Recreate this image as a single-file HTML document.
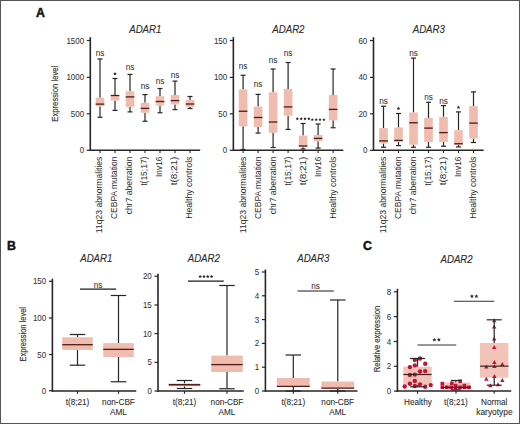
<!DOCTYPE html>
<html><head><meta charset="utf-8"><style>
html,body{margin:0;padding:0;background:#fff;}
text{stroke:#2c2c2c;stroke-width:0.08px;paint-order:stroke;}
svg{display:block;}
</style></head><body>
<svg width="520" height="424" viewBox="0 0 520 424" font-family='"Liberation Sans", sans-serif'>
<rect x="0" y="0" width="520" height="424" fill="#fff"/>
<text x="36" y="16.5" font-size="12.3" font-weight="bold" fill="#111" style="stroke:#111;stroke-width:0.45px">A</text>
<text x="7" y="249.6" font-size="12.3" font-weight="bold" fill="#111" style="stroke:#111;stroke-width:0.45px">B</text>
<text x="362.9" y="249.6" font-size="12.3" font-weight="bold" fill="#111" style="stroke:#111;stroke-width:0.45px">C</text>
<text x="145.3" y="32.9" font-size="10.5" text-anchor="middle" fill="#2a2a2a" font-style="italic" textLength="32.2" lengthAdjust="spacingAndGlyphs" style="stroke-width:0.1px">ADAR1</text>
<line x1="90.3" y1="37.2" x2="90.3" y2="151" stroke="#262626" stroke-width="1.6"/>
<line x1="86.8" y1="150.3" x2="90.3" y2="150.3" stroke="#262626" stroke-width="1.2"/>
<text x="84.1" y="153.3" font-size="8.7" text-anchor="end" fill="#333" textLength="4.42" lengthAdjust="spacingAndGlyphs" style="stroke-width:0.06px;stroke:#333">0</text>
<line x1="86.8" y1="113.8" x2="90.3" y2="113.8" stroke="#262626" stroke-width="1.2"/>
<text x="84.1" y="116.8" font-size="8.7" text-anchor="end" fill="#333" textLength="13.26" lengthAdjust="spacingAndGlyphs" style="stroke-width:0.06px;stroke:#333">500</text>
<line x1="86.8" y1="77.4" x2="90.3" y2="77.4" stroke="#262626" stroke-width="1.2"/>
<text x="84.1" y="80.4" font-size="8.7" text-anchor="end" fill="#333" textLength="17.68" lengthAdjust="spacingAndGlyphs" style="stroke-width:0.06px;stroke:#333">1000</text>
<line x1="86.8" y1="40.5" x2="90.3" y2="40.5" stroke="#262626" stroke-width="1.2"/>
<text x="84.1" y="43.5" font-size="8.7" text-anchor="end" fill="#333" textLength="17.68" lengthAdjust="spacingAndGlyphs" style="stroke-width:0.06px;stroke:#333">1500</text>
<line x1="100" y1="59" x2="100" y2="97.7" stroke="#262626" stroke-width="1.2"/>
<line x1="100" y1="106.2" x2="100" y2="117.3" stroke="#262626" stroke-width="1.2"/>
<line x1="97.5" y1="59" x2="102.5" y2="59" stroke="#262626" stroke-width="1.2"/>
<line x1="97.5" y1="117.3" x2="102.5" y2="117.3" stroke="#262626" stroke-width="1.2"/>
<rect x="95.7" y="97.7" width="8.6" height="8.5" fill="#f0bcaf"/>
<line x1="95.7" y1="104.1" x2="104.3" y2="104.1" stroke="#4e1d17" stroke-width="1.3"/>
<line x1="115" y1="78.5" x2="115" y2="95.1" stroke="#262626" stroke-width="1.2"/>
<line x1="115" y1="100.6" x2="115" y2="110.4" stroke="#262626" stroke-width="1.2"/>
<line x1="112.5" y1="78.5" x2="117.5" y2="78.5" stroke="#262626" stroke-width="1.2"/>
<line x1="112.5" y1="110.4" x2="117.5" y2="110.4" stroke="#262626" stroke-width="1.2"/>
<rect x="110.7" y="95.1" width="8.6" height="5.5" fill="#f0bcaf"/>
<line x1="110.7" y1="95.5" x2="119.3" y2="95.5" stroke="#4e1d17" stroke-width="1.3"/>
<line x1="130" y1="74.4" x2="130" y2="91.25" stroke="#262626" stroke-width="1.2"/>
<line x1="130" y1="106.9" x2="130" y2="111.9" stroke="#262626" stroke-width="1.2"/>
<line x1="127.5" y1="74.4" x2="132.5" y2="74.4" stroke="#262626" stroke-width="1.2"/>
<line x1="127.5" y1="111.9" x2="132.5" y2="111.9" stroke="#262626" stroke-width="1.2"/>
<rect x="125.7" y="91.25" width="8.6" height="15.650000000000006" fill="#f0bcaf"/>
<line x1="125.7" y1="96.9" x2="134.3" y2="96.9" stroke="#4e1d17" stroke-width="1.3"/>
<line x1="145" y1="94.6" x2="145" y2="102.75" stroke="#262626" stroke-width="1.2"/>
<line x1="145" y1="112.75" x2="145" y2="121.25" stroke="#262626" stroke-width="1.2"/>
<line x1="142.5" y1="94.6" x2="147.5" y2="94.6" stroke="#262626" stroke-width="1.2"/>
<line x1="142.5" y1="121.25" x2="147.5" y2="121.25" stroke="#262626" stroke-width="1.2"/>
<rect x="140.7" y="102.75" width="8.6" height="10.0" fill="#f0bcaf"/>
<line x1="140.7" y1="108.4" x2="149.3" y2="108.4" stroke="#4e1d17" stroke-width="1.3"/>
<line x1="160" y1="88.5" x2="160" y2="96.25" stroke="#262626" stroke-width="1.2"/>
<line x1="160" y1="105.6" x2="160" y2="112.75" stroke="#262626" stroke-width="1.2"/>
<line x1="157.5" y1="88.5" x2="162.5" y2="88.5" stroke="#262626" stroke-width="1.2"/>
<line x1="157.5" y1="112.75" x2="162.5" y2="112.75" stroke="#262626" stroke-width="1.2"/>
<rect x="155.7" y="96.25" width="8.6" height="9.349999999999994" fill="#f0bcaf"/>
<line x1="155.7" y1="101.5" x2="164.3" y2="101.5" stroke="#4e1d17" stroke-width="1.3"/>
<line x1="175" y1="81.1" x2="175" y2="95" stroke="#262626" stroke-width="1.2"/>
<line x1="175" y1="104.4" x2="175" y2="109.6" stroke="#262626" stroke-width="1.2"/>
<line x1="172.5" y1="81.1" x2="177.5" y2="81.1" stroke="#262626" stroke-width="1.2"/>
<line x1="172.5" y1="109.6" x2="177.5" y2="109.6" stroke="#262626" stroke-width="1.2"/>
<rect x="170.7" y="95" width="8.6" height="9.400000000000006" fill="#f0bcaf"/>
<line x1="170.7" y1="100.6" x2="179.3" y2="100.6" stroke="#4e1d17" stroke-width="1.3"/>
<line x1="190" y1="96.5" x2="190" y2="100" stroke="#262626" stroke-width="1.2"/>
<line x1="190" y1="106.9" x2="190" y2="108.5" stroke="#262626" stroke-width="1.2"/>
<line x1="187.5" y1="96.5" x2="192.5" y2="96.5" stroke="#262626" stroke-width="1.2"/>
<line x1="187.5" y1="108.5" x2="192.5" y2="108.5" stroke="#262626" stroke-width="1.2"/>
<rect x="185.7" y="100" width="8.6" height="6.900000000000006" fill="#f0bcaf"/>
<line x1="185.7" y1="104" x2="194.3" y2="104" stroke="#4e1d17" stroke-width="1.3"/>
<line x1="89.8" y1="150.3" x2="200.2" y2="150.3" stroke="#262626" stroke-width="1.4"/>
<line x1="100" y1="150.3" x2="100" y2="153.10000000000002" stroke="#262626" stroke-width="1.1"/>
<line x1="115" y1="150.3" x2="115" y2="153.10000000000002" stroke="#262626" stroke-width="1.1"/>
<line x1="130" y1="150.3" x2="130" y2="153.10000000000002" stroke="#262626" stroke-width="1.1"/>
<line x1="145" y1="150.3" x2="145" y2="153.10000000000002" stroke="#262626" stroke-width="1.1"/>
<line x1="160" y1="150.3" x2="160" y2="153.10000000000002" stroke="#262626" stroke-width="1.1"/>
<line x1="175" y1="150.3" x2="175" y2="153.10000000000002" stroke="#262626" stroke-width="1.1"/>
<line x1="190" y1="150.3" x2="190" y2="153.10000000000002" stroke="#262626" stroke-width="1.1"/>
<text transform="translate(102.4,156.6) rotate(-90)" font-size="8.2" text-anchor="end" fill="#2c2c2c" textLength="76.6" lengthAdjust="spacingAndGlyphs" style="stroke-width:0px">11q23 abnormalities</text>
<text transform="translate(117.4,156.6) rotate(-90)" font-size="8.2" text-anchor="end" fill="#2c2c2c" textLength="62.4" lengthAdjust="spacingAndGlyphs" style="stroke-width:0px">CEBPA mutation</text>
<text transform="translate(132.4,156.6) rotate(-90)" font-size="8.2" text-anchor="end" fill="#2c2c2c" textLength="57.6" lengthAdjust="spacingAndGlyphs" style="stroke-width:0px">chr7 aberration</text>
<text transform="translate(147.4,156.6) rotate(-90)" font-size="8.2" text-anchor="end" fill="#2c2c2c" textLength="29.2" lengthAdjust="spacingAndGlyphs" style="stroke-width:0px">t(15;17)</text>
<text transform="translate(162.4,156.6) rotate(-90)" font-size="8.2" text-anchor="end" fill="#2c2c2c" textLength="20.4" lengthAdjust="spacingAndGlyphs" style="stroke-width:0px">Inv16</text>
<text transform="translate(177.4,156.6) rotate(-90)" font-size="8.2" text-anchor="end" fill="#2c2c2c" textLength="28.7" lengthAdjust="spacingAndGlyphs" style="stroke-width:0px">t(8;21)</text>
<text transform="translate(192.4,156.6) rotate(-90)" font-size="8.2" text-anchor="end" fill="#2c2c2c" textLength="62.2" lengthAdjust="spacingAndGlyphs" style="stroke-width:0px">Healthy controls</text>
<text x="100" y="56.2" font-size="8.2" text-anchor="middle" fill="#333" style="stroke-width:0.05px">ns</text>
<polygon points="115.00,71.90 115.56,73.03 116.81,73.21 115.90,74.09 116.12,75.34 115.00,74.75 113.88,75.34 114.10,74.09 113.19,73.21 114.44,73.03" fill="#2c2c2c"/>
<text x="130" y="70" font-size="8.2" text-anchor="middle" fill="#333" style="stroke-width:0.05px">ns</text>
<text x="145" y="89.2" font-size="8.2" text-anchor="middle" fill="#333" style="stroke-width:0.05px">ns</text>
<text x="160" y="84.2" font-size="8.2" text-anchor="middle" fill="#333" style="stroke-width:0.05px">ns</text>
<text x="175" y="77.7" font-size="8.2" text-anchor="middle" fill="#333" style="stroke-width:0.05px">ns</text>
<text x="288.4" y="32.9" font-size="10.5" text-anchor="middle" fill="#2a2a2a" font-style="italic" textLength="32.2" lengthAdjust="spacingAndGlyphs" style="stroke-width:0.1px">ADAR2</text>
<line x1="233.35" y1="37.2" x2="233.35" y2="151" stroke="#262626" stroke-width="1.6"/>
<line x1="229.85" y1="150.3" x2="233.35" y2="150.3" stroke="#262626" stroke-width="1.2"/>
<text x="227.15" y="153.3" font-size="8.7" text-anchor="end" fill="#333" textLength="4.42" lengthAdjust="spacingAndGlyphs" style="stroke-width:0.06px;stroke:#333">0</text>
<line x1="229.85" y1="113.8" x2="233.35" y2="113.8" stroke="#262626" stroke-width="1.2"/>
<text x="227.15" y="116.8" font-size="8.7" text-anchor="end" fill="#333" textLength="8.84" lengthAdjust="spacingAndGlyphs" style="stroke-width:0.06px;stroke:#333">50</text>
<line x1="229.85" y1="77.4" x2="233.35" y2="77.4" stroke="#262626" stroke-width="1.2"/>
<text x="227.15" y="80.4" font-size="8.7" text-anchor="end" fill="#333" textLength="13.26" lengthAdjust="spacingAndGlyphs" style="stroke-width:0.06px;stroke:#333">100</text>
<line x1="229.85" y1="40.5" x2="233.35" y2="40.5" stroke="#262626" stroke-width="1.2"/>
<text x="227.15" y="43.5" font-size="8.7" text-anchor="end" fill="#333" textLength="13.26" lengthAdjust="spacingAndGlyphs" style="stroke-width:0.06px;stroke:#333">150</text>
<line x1="243.1" y1="75.25" x2="243.1" y2="89.4" stroke="#262626" stroke-width="1.2"/>
<line x1="243.1" y1="126.25" x2="243.1" y2="149.5" stroke="#262626" stroke-width="1.2"/>
<line x1="240.6" y1="75.25" x2="245.6" y2="75.25" stroke="#262626" stroke-width="1.2"/>
<line x1="240.6" y1="149.5" x2="245.6" y2="149.5" stroke="#262626" stroke-width="1.2"/>
<rect x="238.79999999999998" y="89.4" width="8.6" height="36.849999999999994" fill="#f0bcaf"/>
<line x1="238.79999999999998" y1="111.25" x2="247.4" y2="111.25" stroke="#4e1d17" stroke-width="1.3"/>
<line x1="258.1" y1="94.4" x2="258.1" y2="106.6" stroke="#262626" stroke-width="1.2"/>
<line x1="258.1" y1="126.9" x2="258.1" y2="133.1" stroke="#262626" stroke-width="1.2"/>
<line x1="255.60000000000002" y1="94.4" x2="260.6" y2="94.4" stroke="#262626" stroke-width="1.2"/>
<line x1="255.60000000000002" y1="133.1" x2="260.6" y2="133.1" stroke="#262626" stroke-width="1.2"/>
<rect x="253.8" y="106.6" width="8.6" height="20.30000000000001" fill="#f0bcaf"/>
<line x1="253.8" y1="117.5" x2="262.40000000000003" y2="117.5" stroke="#4e1d17" stroke-width="1.3"/>
<line x1="273.1" y1="69" x2="273.1" y2="92.25" stroke="#262626" stroke-width="1.2"/>
<line x1="273.1" y1="132.75" x2="273.1" y2="147.5" stroke="#262626" stroke-width="1.2"/>
<line x1="270.6" y1="69" x2="275.6" y2="69" stroke="#262626" stroke-width="1.2"/>
<line x1="270.6" y1="147.5" x2="275.6" y2="147.5" stroke="#262626" stroke-width="1.2"/>
<rect x="268.8" y="92.25" width="8.6" height="40.5" fill="#f0bcaf"/>
<line x1="268.8" y1="122" x2="277.40000000000003" y2="122" stroke="#4e1d17" stroke-width="1.3"/>
<line x1="288.1" y1="62.5" x2="288.1" y2="89" stroke="#262626" stroke-width="1.2"/>
<line x1="288.1" y1="115.6" x2="288.1" y2="129.4" stroke="#262626" stroke-width="1.2"/>
<line x1="285.6" y1="62.5" x2="290.6" y2="62.5" stroke="#262626" stroke-width="1.2"/>
<line x1="285.6" y1="129.4" x2="290.6" y2="129.4" stroke="#262626" stroke-width="1.2"/>
<rect x="283.8" y="89" width="8.6" height="26.599999999999994" fill="#f0bcaf"/>
<line x1="283.8" y1="106.9" x2="292.40000000000003" y2="106.9" stroke="#4e1d17" stroke-width="1.3"/>
<line x1="303.1" y1="123.5" x2="303.1" y2="135.6" stroke="#262626" stroke-width="1.2"/>
<line x1="303.1" y1="147.2" x2="303.1" y2="149" stroke="#262626" stroke-width="1.2"/>
<line x1="300.6" y1="123.5" x2="305.6" y2="123.5" stroke="#262626" stroke-width="1.2"/>
<line x1="300.6" y1="149" x2="305.6" y2="149" stroke="#262626" stroke-width="1.2"/>
<rect x="298.8" y="135.6" width="8.6" height="11.599999999999994" fill="#f0bcaf"/>
<line x1="298.8" y1="146" x2="307.40000000000003" y2="146" stroke="#4e1d17" stroke-width="1.3"/>
<line x1="318.1" y1="124" x2="318.1" y2="135" stroke="#262626" stroke-width="1.2"/>
<line x1="318.1" y1="141.25" x2="318.1" y2="148.1" stroke="#262626" stroke-width="1.2"/>
<line x1="315.6" y1="124" x2="320.6" y2="124" stroke="#262626" stroke-width="1.2"/>
<line x1="315.6" y1="148.1" x2="320.6" y2="148.1" stroke="#262626" stroke-width="1.2"/>
<rect x="313.8" y="135" width="8.6" height="6.25" fill="#f0bcaf"/>
<line x1="313.8" y1="138.4" x2="322.40000000000003" y2="138.4" stroke="#4e1d17" stroke-width="1.3"/>
<line x1="333.1" y1="69" x2="333.1" y2="95" stroke="#262626" stroke-width="1.2"/>
<line x1="333.1" y1="120.25" x2="333.1" y2="127.75" stroke="#262626" stroke-width="1.2"/>
<line x1="330.6" y1="69" x2="335.6" y2="69" stroke="#262626" stroke-width="1.2"/>
<line x1="330.6" y1="127.75" x2="335.6" y2="127.75" stroke="#262626" stroke-width="1.2"/>
<rect x="328.8" y="95" width="8.6" height="25.25" fill="#f0bcaf"/>
<line x1="328.8" y1="109.4" x2="337.40000000000003" y2="109.4" stroke="#4e1d17" stroke-width="1.3"/>
<line x1="232.85" y1="150.3" x2="343.3" y2="150.3" stroke="#262626" stroke-width="1.4"/>
<line x1="243.1" y1="150.3" x2="243.1" y2="153.10000000000002" stroke="#262626" stroke-width="1.1"/>
<line x1="258.1" y1="150.3" x2="258.1" y2="153.10000000000002" stroke="#262626" stroke-width="1.1"/>
<line x1="273.1" y1="150.3" x2="273.1" y2="153.10000000000002" stroke="#262626" stroke-width="1.1"/>
<line x1="288.1" y1="150.3" x2="288.1" y2="153.10000000000002" stroke="#262626" stroke-width="1.1"/>
<line x1="303.1" y1="150.3" x2="303.1" y2="153.10000000000002" stroke="#262626" stroke-width="1.1"/>
<line x1="318.1" y1="150.3" x2="318.1" y2="153.10000000000002" stroke="#262626" stroke-width="1.1"/>
<line x1="333.1" y1="150.3" x2="333.1" y2="153.10000000000002" stroke="#262626" stroke-width="1.1"/>
<text transform="translate(245.5,156.6) rotate(-90)" font-size="8.2" text-anchor="end" fill="#2c2c2c" textLength="76.6" lengthAdjust="spacingAndGlyphs" style="stroke-width:0px">11q23 abnormalities</text>
<text transform="translate(260.5,156.6) rotate(-90)" font-size="8.2" text-anchor="end" fill="#2c2c2c" textLength="62.4" lengthAdjust="spacingAndGlyphs" style="stroke-width:0px">CEBPA mutation</text>
<text transform="translate(275.5,156.6) rotate(-90)" font-size="8.2" text-anchor="end" fill="#2c2c2c" textLength="57.6" lengthAdjust="spacingAndGlyphs" style="stroke-width:0px">chr7 aberration</text>
<text transform="translate(290.5,156.6) rotate(-90)" font-size="8.2" text-anchor="end" fill="#2c2c2c" textLength="29.2" lengthAdjust="spacingAndGlyphs" style="stroke-width:0px">t(15;17)</text>
<text transform="translate(305.5,156.6) rotate(-90)" font-size="8.2" text-anchor="end" fill="#2c2c2c" textLength="28.7" lengthAdjust="spacingAndGlyphs" style="stroke-width:0px">t(8;21)</text>
<text transform="translate(320.5,156.6) rotate(-90)" font-size="8.2" text-anchor="end" fill="#2c2c2c" textLength="20.4" lengthAdjust="spacingAndGlyphs" style="stroke-width:0px">Inv16</text>
<text transform="translate(335.5,156.6) rotate(-90)" font-size="8.2" text-anchor="end" fill="#2c2c2c" textLength="62.2" lengthAdjust="spacingAndGlyphs" style="stroke-width:0px">Healthy controls</text>
<text x="243.1" y="69.2" font-size="8.2" text-anchor="middle" fill="#333" style="stroke-width:0.05px">ns</text>
<text x="258.1" y="87.1" font-size="8.2" text-anchor="middle" fill="#333" style="stroke-width:0.05px">ns</text>
<text x="273.1" y="62.7" font-size="8.2" text-anchor="middle" fill="#333" style="stroke-width:0.05px">ns</text>
<text x="288.1" y="56.2" font-size="8.2" text-anchor="middle" fill="#333" style="stroke-width:0.05px">ns</text>
<polygon points="297.33,117.10 297.82,118.11 298.94,118.27 298.13,119.06 298.32,120.18 297.33,119.65 296.33,120.18 296.52,119.06 295.71,118.27 296.83,118.11" fill="#2c2c2c"/>
<polygon points="301.18,117.10 301.67,118.11 302.79,118.27 301.98,119.06 302.17,120.18 301.18,119.65 300.18,120.18 300.37,119.06 299.56,118.27 300.68,118.11" fill="#2c2c2c"/>
<polygon points="305.03,117.10 305.52,118.11 306.64,118.27 305.83,119.06 306.02,120.18 305.03,119.65 304.03,120.18 304.22,119.06 303.41,118.27 304.53,118.11" fill="#2c2c2c"/>
<polygon points="308.88,117.10 309.37,118.11 310.49,118.27 309.68,119.06 309.87,120.18 308.88,119.65 307.88,120.18 308.07,119.06 307.26,118.27 308.38,118.11" fill="#2c2c2c"/>
<polygon points="312.33,117.90 312.82,118.91 313.94,119.07 313.13,119.86 313.32,120.98 312.33,120.45 311.33,120.98 311.52,119.86 310.71,119.07 311.83,118.91" fill="#2c2c2c"/>
<polygon points="316.18,117.90 316.67,118.91 317.79,119.07 316.98,119.86 317.17,120.98 316.18,120.45 315.18,120.98 315.37,119.86 314.56,119.07 315.68,118.91" fill="#2c2c2c"/>
<polygon points="320.03,117.90 320.52,118.91 321.64,119.07 320.83,119.86 321.02,120.98 320.03,120.45 319.03,120.98 319.22,119.86 318.41,119.07 319.53,118.91" fill="#2c2c2c"/>
<polygon points="323.88,117.90 324.37,118.91 325.49,119.07 324.68,119.86 324.87,120.98 323.88,120.45 322.88,120.98 323.07,119.86 322.26,119.07 323.38,118.91" fill="#2c2c2c"/>
<text x="428.8" y="32.9" font-size="10.5" text-anchor="middle" fill="#2a2a2a" font-style="italic" textLength="32.2" lengthAdjust="spacingAndGlyphs" style="stroke-width:0.1px">ADAR3</text>
<line x1="373.5" y1="37.2" x2="373.5" y2="151" stroke="#262626" stroke-width="1.6"/>
<line x1="370.0" y1="150.3" x2="373.5" y2="150.3" stroke="#262626" stroke-width="1.2"/>
<text x="367.3" y="153.3" font-size="8.7" text-anchor="end" fill="#333" textLength="4.42" lengthAdjust="spacingAndGlyphs" style="stroke-width:0.06px;stroke:#333">0</text>
<line x1="370.0" y1="113.8" x2="373.5" y2="113.8" stroke="#262626" stroke-width="1.2"/>
<text x="367.3" y="116.8" font-size="8.7" text-anchor="end" fill="#333" textLength="8.84" lengthAdjust="spacingAndGlyphs" style="stroke-width:0.06px;stroke:#333">20</text>
<line x1="370.0" y1="77.4" x2="373.5" y2="77.4" stroke="#262626" stroke-width="1.2"/>
<text x="367.3" y="80.4" font-size="8.7" text-anchor="end" fill="#333" textLength="8.84" lengthAdjust="spacingAndGlyphs" style="stroke-width:0.06px;stroke:#333">40</text>
<line x1="370.0" y1="40.5" x2="373.5" y2="40.5" stroke="#262626" stroke-width="1.2"/>
<text x="367.3" y="43.5" font-size="8.7" text-anchor="end" fill="#333" textLength="8.84" lengthAdjust="spacingAndGlyphs" style="stroke-width:0.06px;stroke:#333">60</text>
<line x1="383.5" y1="106.25" x2="383.5" y2="128.1" stroke="#262626" stroke-width="1.2"/>
<line x1="383.5" y1="143.5" x2="383.5" y2="147.25" stroke="#262626" stroke-width="1.2"/>
<line x1="381.0" y1="106.25" x2="386.0" y2="106.25" stroke="#262626" stroke-width="1.2"/>
<line x1="381.0" y1="147.25" x2="386.0" y2="147.25" stroke="#262626" stroke-width="1.2"/>
<rect x="379.2" y="128.1" width="8.6" height="15.400000000000006" fill="#f0bcaf"/>
<line x1="379.2" y1="140.9" x2="387.8" y2="140.9" stroke="#4e1d17" stroke-width="1.3"/>
<line x1="398.5" y1="113.5" x2="398.5" y2="127.5" stroke="#262626" stroke-width="1.2"/>
<line x1="398.5" y1="141.9" x2="398.5" y2="145.6" stroke="#262626" stroke-width="1.2"/>
<line x1="396.0" y1="113.5" x2="401.0" y2="113.5" stroke="#262626" stroke-width="1.2"/>
<line x1="396.0" y1="145.6" x2="401.0" y2="145.6" stroke="#262626" stroke-width="1.2"/>
<rect x="394.2" y="127.5" width="8.6" height="14.400000000000006" fill="#f0bcaf"/>
<line x1="394.2" y1="140.4" x2="402.8" y2="140.4" stroke="#4e1d17" stroke-width="1.3"/>
<line x1="413.5" y1="58.1" x2="413.5" y2="112.5" stroke="#262626" stroke-width="1.2"/>
<line x1="413.5" y1="144.75" x2="413.5" y2="147.25" stroke="#262626" stroke-width="1.2"/>
<line x1="411.0" y1="58.1" x2="416.0" y2="58.1" stroke="#262626" stroke-width="1.2"/>
<line x1="411.0" y1="147.25" x2="416.0" y2="147.25" stroke="#262626" stroke-width="1.2"/>
<rect x="409.2" y="112.5" width="8.6" height="32.25" fill="#f0bcaf"/>
<line x1="409.2" y1="122.75" x2="417.8" y2="122.75" stroke="#4e1d17" stroke-width="1.3"/>
<line x1="428.5" y1="102.25" x2="428.5" y2="118" stroke="#262626" stroke-width="1.2"/>
<line x1="428.5" y1="141.9" x2="428.5" y2="147.25" stroke="#262626" stroke-width="1.2"/>
<line x1="426.0" y1="102.25" x2="431.0" y2="102.25" stroke="#262626" stroke-width="1.2"/>
<line x1="426.0" y1="147.25" x2="431.0" y2="147.25" stroke="#262626" stroke-width="1.2"/>
<rect x="424.2" y="118" width="8.6" height="23.900000000000006" fill="#f0bcaf"/>
<line x1="424.2" y1="128.1" x2="432.8" y2="128.1" stroke="#4e1d17" stroke-width="1.3"/>
<line x1="443.5" y1="105.6" x2="443.5" y2="116.9" stroke="#262626" stroke-width="1.2"/>
<line x1="443.5" y1="141.9" x2="443.5" y2="146.25" stroke="#262626" stroke-width="1.2"/>
<line x1="441.0" y1="105.6" x2="446.0" y2="105.6" stroke="#262626" stroke-width="1.2"/>
<line x1="441.0" y1="146.25" x2="446.0" y2="146.25" stroke="#262626" stroke-width="1.2"/>
<rect x="439.2" y="116.9" width="8.6" height="25.0" fill="#f0bcaf"/>
<line x1="439.2" y1="132.6" x2="447.8" y2="132.6" stroke="#4e1d17" stroke-width="1.3"/>
<line x1="458.5" y1="111.9" x2="458.5" y2="130.25" stroke="#262626" stroke-width="1.2"/>
<line x1="458.5" y1="145" x2="458.5" y2="146.9" stroke="#262626" stroke-width="1.2"/>
<line x1="456.0" y1="111.9" x2="461.0" y2="111.9" stroke="#262626" stroke-width="1.2"/>
<line x1="456.0" y1="146.9" x2="461.0" y2="146.9" stroke="#262626" stroke-width="1.2"/>
<rect x="454.2" y="130.25" width="8.6" height="14.75" fill="#f0bcaf"/>
<line x1="454.2" y1="143.75" x2="462.8" y2="143.75" stroke="#4e1d17" stroke-width="1.3"/>
<line x1="473.5" y1="91.9" x2="473.5" y2="106.25" stroke="#262626" stroke-width="1.2"/>
<line x1="473.5" y1="138.5" x2="473.5" y2="142.5" stroke="#262626" stroke-width="1.2"/>
<line x1="471.0" y1="91.9" x2="476.0" y2="91.9" stroke="#262626" stroke-width="1.2"/>
<line x1="471.0" y1="142.5" x2="476.0" y2="142.5" stroke="#262626" stroke-width="1.2"/>
<rect x="469.2" y="106.25" width="8.6" height="32.25" fill="#f0bcaf"/>
<line x1="469.2" y1="123.1" x2="477.8" y2="123.1" stroke="#4e1d17" stroke-width="1.3"/>
<line x1="373.0" y1="150.3" x2="483.7" y2="150.3" stroke="#262626" stroke-width="1.4"/>
<line x1="383.5" y1="150.3" x2="383.5" y2="153.10000000000002" stroke="#262626" stroke-width="1.1"/>
<line x1="398.5" y1="150.3" x2="398.5" y2="153.10000000000002" stroke="#262626" stroke-width="1.1"/>
<line x1="413.5" y1="150.3" x2="413.5" y2="153.10000000000002" stroke="#262626" stroke-width="1.1"/>
<line x1="428.5" y1="150.3" x2="428.5" y2="153.10000000000002" stroke="#262626" stroke-width="1.1"/>
<line x1="443.5" y1="150.3" x2="443.5" y2="153.10000000000002" stroke="#262626" stroke-width="1.1"/>
<line x1="458.5" y1="150.3" x2="458.5" y2="153.10000000000002" stroke="#262626" stroke-width="1.1"/>
<line x1="473.5" y1="150.3" x2="473.5" y2="153.10000000000002" stroke="#262626" stroke-width="1.1"/>
<text transform="translate(385.9,156.6) rotate(-90)" font-size="8.2" text-anchor="end" fill="#2c2c2c" textLength="76.6" lengthAdjust="spacingAndGlyphs" style="stroke-width:0px">11q23 abnormalities</text>
<text transform="translate(400.9,156.6) rotate(-90)" font-size="8.2" text-anchor="end" fill="#2c2c2c" textLength="62.4" lengthAdjust="spacingAndGlyphs" style="stroke-width:0px">CEBPA mutation</text>
<text transform="translate(415.9,156.6) rotate(-90)" font-size="8.2" text-anchor="end" fill="#2c2c2c" textLength="57.6" lengthAdjust="spacingAndGlyphs" style="stroke-width:0px">chr7 aberration</text>
<text transform="translate(430.9,156.6) rotate(-90)" font-size="8.2" text-anchor="end" fill="#2c2c2c" textLength="29.2" lengthAdjust="spacingAndGlyphs" style="stroke-width:0px">t(15;17)</text>
<text transform="translate(445.9,156.6) rotate(-90)" font-size="8.2" text-anchor="end" fill="#2c2c2c" textLength="28.7" lengthAdjust="spacingAndGlyphs" style="stroke-width:0px">t(8;21)</text>
<text transform="translate(460.9,156.6) rotate(-90)" font-size="8.2" text-anchor="end" fill="#2c2c2c" textLength="20.4" lengthAdjust="spacingAndGlyphs" style="stroke-width:0px">Inv16</text>
<text transform="translate(475.9,156.6) rotate(-90)" font-size="8.2" text-anchor="end" fill="#2c2c2c" textLength="62.2" lengthAdjust="spacingAndGlyphs" style="stroke-width:0px">Healthy controls</text>
<text x="383.5" y="104.2" font-size="8.2" text-anchor="middle" fill="#333" style="stroke-width:0.05px">ns</text>
<polygon points="398.50,106.60 399.06,107.73 400.31,107.91 399.40,108.79 399.62,110.04 398.50,109.45 397.38,110.04 397.60,108.79 396.69,107.91 397.94,107.73" fill="#2c2c2c"/>
<text x="413.5" y="56.4" font-size="8.2" text-anchor="middle" fill="#333" style="stroke-width:0.05px">ns</text>
<text x="428.5" y="100.2" font-size="8.2" text-anchor="middle" fill="#333" style="stroke-width:0.05px">ns</text>
<text x="443.5" y="103.8" font-size="8.2" text-anchor="middle" fill="#333" style="stroke-width:0.05px">ns</text>
<polygon points="458.50,105.50 459.06,106.63 460.31,106.81 459.40,107.69 459.62,108.94 458.50,108.35 457.38,108.94 457.60,107.69 456.69,106.81 457.94,106.63" fill="#2c2c2c"/>
<text transform="translate(58.2,93.7) rotate(-90)" font-size="8.7" text-anchor="middle" fill="#2c2c2c" textLength="56" lengthAdjust="spacingAndGlyphs" style="stroke-width:0.12px">Expression level</text>
<text x="96.3" y="262.3" font-size="10.5" text-anchor="middle" fill="#2a2a2a" font-style="italic" textLength="32.2" lengthAdjust="spacingAndGlyphs" style="stroke-width:0.1px">ADAR1</text>
<line x1="52.4" y1="278.75" x2="52.4" y2="391.7" stroke="#262626" stroke-width="1.6"/>
<line x1="48.9" y1="390.75" x2="52.4" y2="390.75" stroke="#262626" stroke-width="1.2"/>
<text x="46.199999999999996" y="393.75" font-size="8.7" text-anchor="end" fill="#333" textLength="4.42" lengthAdjust="spacingAndGlyphs" style="stroke-width:0.06px;stroke:#333">0</text>
<line x1="48.9" y1="354.5" x2="52.4" y2="354.5" stroke="#262626" stroke-width="1.2"/>
<text x="46.199999999999996" y="357.5" font-size="8.7" text-anchor="end" fill="#333" textLength="8.84" lengthAdjust="spacingAndGlyphs" style="stroke-width:0.06px;stroke:#333">50</text>
<line x1="48.9" y1="318" x2="52.4" y2="318" stroke="#262626" stroke-width="1.2"/>
<text x="46.199999999999996" y="321.0" font-size="8.7" text-anchor="end" fill="#333" textLength="13.26" lengthAdjust="spacingAndGlyphs" style="stroke-width:0.06px;stroke:#333">100</text>
<line x1="48.9" y1="281.25" x2="52.4" y2="281.25" stroke="#262626" stroke-width="1.2"/>
<text x="46.199999999999996" y="284.25" font-size="8.7" text-anchor="end" fill="#333" textLength="13.26" lengthAdjust="spacingAndGlyphs" style="stroke-width:0.06px;stroke:#333">150</text>
<line x1="77.5" y1="334.5" x2="77.5" y2="337.3" stroke="#262626" stroke-width="1.2"/>
<line x1="77.5" y1="349.9" x2="77.5" y2="365.2" stroke="#262626" stroke-width="1.2"/>
<line x1="69.75" y1="334.5" x2="85.25" y2="334.5" stroke="#262626" stroke-width="1.2"/>
<line x1="69.75" y1="365.2" x2="85.25" y2="365.2" stroke="#262626" stroke-width="1.2"/>
<rect x="62.25" y="337.3" width="30.5" height="12.599999999999966" fill="#f0bcaf"/>
<line x1="62.25" y1="344.7" x2="92.75" y2="344.7" stroke="#4e1d17" stroke-width="1.3"/>
<line x1="118.5" y1="295.5" x2="118.5" y2="343.1" stroke="#262626" stroke-width="1.2"/>
<line x1="118.5" y1="357" x2="118.5" y2="381.75" stroke="#262626" stroke-width="1.2"/>
<line x1="110.75" y1="295.5" x2="126.25" y2="295.5" stroke="#262626" stroke-width="1.2"/>
<line x1="110.75" y1="381.75" x2="126.25" y2="381.75" stroke="#262626" stroke-width="1.2"/>
<rect x="103.25" y="343.1" width="30.5" height="13.899999999999977" fill="#f0bcaf"/>
<line x1="103.25" y1="349.35" x2="133.75" y2="349.35" stroke="#4e1d17" stroke-width="1.3"/>
<line x1="51.9" y1="391" x2="136.25" y2="391" stroke="#262626" stroke-width="1.4"/>
<line x1="77.5" y1="391" x2="77.5" y2="393.8" stroke="#262626" stroke-width="1.1"/>
<line x1="118.5" y1="391" x2="118.5" y2="393.8" stroke="#262626" stroke-width="1.1"/>
<line x1="80" y1="289.2" x2="116.25" y2="289.2" stroke="#1a1a1a" stroke-width="1.2"/>
<text x="98.125" y="287.7" font-size="8.2" text-anchor="middle" fill="#333" style="stroke-width:0.05px">ns</text>
<text x="77.5" y="404.8" font-size="8.2" text-anchor="middle" fill="#2c2c2c" >t(8;21)</text>
<text x="118.5" y="404.8" font-size="8.2" text-anchor="middle" fill="#2c2c2c" >non-CBF</text>
<text x="118.5" y="415" font-size="8.2" text-anchor="middle" fill="#2c2c2c" >AML</text>
<text x="203.8" y="262.3" font-size="10.5" text-anchor="middle" fill="#2a2a2a" font-style="italic" textLength="32.2" lengthAdjust="spacingAndGlyphs" style="stroke-width:0.1px">ADAR2</text>
<line x1="158.0" y1="273.75" x2="158.0" y2="391.7" stroke="#262626" stroke-width="1.6"/>
<line x1="154.5" y1="391" x2="158.0" y2="391" stroke="#262626" stroke-width="1.2"/>
<text x="151.8" y="394.0" font-size="8.7" text-anchor="end" fill="#333" textLength="4.42" lengthAdjust="spacingAndGlyphs" style="stroke-width:0.06px;stroke:#333">0</text>
<line x1="154.5" y1="362.4" x2="158.0" y2="362.4" stroke="#262626" stroke-width="1.2"/>
<text x="151.8" y="365.4" font-size="8.7" text-anchor="end" fill="#333" textLength="4.42" lengthAdjust="spacingAndGlyphs" style="stroke-width:0.06px;stroke:#333">5</text>
<line x1="154.5" y1="333.6" x2="158.0" y2="333.6" stroke="#262626" stroke-width="1.2"/>
<text x="151.8" y="336.6" font-size="8.7" text-anchor="end" fill="#333" textLength="8.84" lengthAdjust="spacingAndGlyphs" style="stroke-width:0.06px;stroke:#333">10</text>
<line x1="154.5" y1="305" x2="158.0" y2="305" stroke="#262626" stroke-width="1.2"/>
<text x="151.8" y="308.0" font-size="8.7" text-anchor="end" fill="#333" textLength="8.84" lengthAdjust="spacingAndGlyphs" style="stroke-width:0.06px;stroke:#333">15</text>
<line x1="154.5" y1="276.25" x2="158.0" y2="276.25" stroke="#262626" stroke-width="1.2"/>
<text x="151.8" y="279.25" font-size="8.7" text-anchor="end" fill="#333" textLength="8.84" lengthAdjust="spacingAndGlyphs" style="stroke-width:0.06px;stroke:#333">20</text>
<line x1="184.5" y1="380.5" x2="184.5" y2="383.5" stroke="#262626" stroke-width="1.2"/>
<line x1="184.5" y1="386.25" x2="184.5" y2="388.5" stroke="#262626" stroke-width="1.2"/>
<line x1="176.75" y1="380.5" x2="192.25" y2="380.5" stroke="#262626" stroke-width="1.2"/>
<line x1="176.75" y1="388.5" x2="192.25" y2="388.5" stroke="#262626" stroke-width="1.2"/>
<rect x="168.75" y="383.5" width="31.5" height="2.75" fill="#f0bcaf"/>
<line x1="168.75" y1="384.75" x2="200.25" y2="384.75" stroke="#4e1d17" stroke-width="1.3"/>
<line x1="227" y1="285.5" x2="227" y2="355.6" stroke="#262626" stroke-width="1.2"/>
<line x1="227" y1="372" x2="227" y2="388.75" stroke="#262626" stroke-width="1.2"/>
<line x1="219.25" y1="285.5" x2="234.75" y2="285.5" stroke="#262626" stroke-width="1.2"/>
<line x1="219.25" y1="388.75" x2="234.75" y2="388.75" stroke="#262626" stroke-width="1.2"/>
<rect x="211.25" y="355.6" width="31.5" height="16.399999999999977" fill="#f0bcaf"/>
<line x1="211.25" y1="364.6" x2="242.75" y2="364.6" stroke="#4e1d17" stroke-width="1.3"/>
<line x1="157.5" y1="391" x2="243.75" y2="391" stroke="#262626" stroke-width="1.4"/>
<line x1="184.5" y1="391" x2="184.5" y2="393.8" stroke="#262626" stroke-width="1.1"/>
<line x1="227" y1="391" x2="227" y2="393.8" stroke="#262626" stroke-width="1.1"/>
<line x1="188" y1="281.1" x2="223.75" y2="281.1" stroke="#1a1a1a" stroke-width="1.2"/>
<polygon points="200.18,274.75 200.72,275.85 201.93,276.03 201.05,276.89 201.26,278.10 200.18,277.53 199.09,278.10 199.30,276.89 198.42,276.03 199.63,275.85" fill="#2c2c2c"/>
<polygon points="203.98,274.75 204.52,275.85 205.73,276.03 204.85,276.89 205.06,278.10 203.98,277.53 202.89,278.10 203.10,276.89 202.22,276.03 203.43,275.85" fill="#2c2c2c"/>
<polygon points="207.78,274.75 208.32,275.85 209.53,276.03 208.65,276.89 208.86,278.10 207.78,277.53 206.69,278.10 206.90,276.89 206.02,276.03 207.23,275.85" fill="#2c2c2c"/>
<polygon points="211.58,274.75 212.12,275.85 213.33,276.03 212.45,276.89 212.66,278.10 211.58,277.53 210.49,278.10 210.70,276.89 209.82,276.03 211.03,275.85" fill="#2c2c2c"/>
<text x="184.5" y="404.8" font-size="8.2" text-anchor="middle" fill="#2c2c2c" >t(8;21)</text>
<text x="227" y="404.8" font-size="8.2" text-anchor="middle" fill="#2c2c2c" >non-CBF</text>
<text x="227" y="415" font-size="8.2" text-anchor="middle" fill="#2c2c2c" >AML</text>
<text x="313.3" y="262.3" font-size="10.5" text-anchor="middle" fill="#2a2a2a" font-style="italic" textLength="32.2" lengthAdjust="spacingAndGlyphs" style="stroke-width:0.1px">ADAR3</text>
<line x1="265.4" y1="269.5" x2="265.4" y2="391.7" stroke="#262626" stroke-width="1.6"/>
<line x1="261.9" y1="391" x2="265.4" y2="391" stroke="#262626" stroke-width="1.2"/>
<text x="259.2" y="394.0" font-size="8.7" text-anchor="end" fill="#333" textLength="4.42" lengthAdjust="spacingAndGlyphs" style="stroke-width:0.06px;stroke:#333">0</text>
<line x1="261.9" y1="367.2" x2="265.4" y2="367.2" stroke="#262626" stroke-width="1.2"/>
<text x="259.2" y="370.2" font-size="8.7" text-anchor="end" fill="#333" textLength="4.42" lengthAdjust="spacingAndGlyphs" style="stroke-width:0.06px;stroke:#333">1</text>
<line x1="261.9" y1="343.4" x2="265.4" y2="343.4" stroke="#262626" stroke-width="1.2"/>
<text x="259.2" y="346.4" font-size="8.7" text-anchor="end" fill="#333" textLength="4.42" lengthAdjust="spacingAndGlyphs" style="stroke-width:0.06px;stroke:#333">2</text>
<line x1="261.9" y1="319.6" x2="265.4" y2="319.6" stroke="#262626" stroke-width="1.2"/>
<text x="259.2" y="322.6" font-size="8.7" text-anchor="end" fill="#333" textLength="4.42" lengthAdjust="spacingAndGlyphs" style="stroke-width:0.06px;stroke:#333">3</text>
<line x1="261.9" y1="295.8" x2="265.4" y2="295.8" stroke="#262626" stroke-width="1.2"/>
<text x="259.2" y="298.8" font-size="8.7" text-anchor="end" fill="#333" textLength="4.42" lengthAdjust="spacingAndGlyphs" style="stroke-width:0.06px;stroke:#333">4</text>
<line x1="261.9" y1="272" x2="265.4" y2="272" stroke="#262626" stroke-width="1.2"/>
<text x="259.2" y="275.0" font-size="8.7" text-anchor="end" fill="#333" textLength="4.42" lengthAdjust="spacingAndGlyphs" style="stroke-width:0.06px;stroke:#333">5</text>
<line x1="293.3" y1="355" x2="293.3" y2="378" stroke="#262626" stroke-width="1.2"/>
<line x1="293.3" y1="386.8" x2="293.3" y2="391" stroke="#262626" stroke-width="1.2"/>
<line x1="285.55" y1="355" x2="301.05" y2="355" stroke="#262626" stroke-width="1.2"/>
<line x1="285.55" y1="391" x2="301.05" y2="391" stroke="#262626" stroke-width="1.2"/>
<rect x="276.85" y="378" width="32.9" height="8.800000000000011" fill="#f0bcaf"/>
<line x1="276.85" y1="386.3" x2="309.75" y2="386.3" stroke="#4e1d17" stroke-width="1.3"/>
<line x1="337.75" y1="300" x2="337.75" y2="381.5" stroke="#262626" stroke-width="1.2"/>
<line x1="337.75" y1="388.6" x2="337.75" y2="391" stroke="#262626" stroke-width="1.2"/>
<line x1="330.0" y1="300" x2="345.5" y2="300" stroke="#262626" stroke-width="1.2"/>
<line x1="330.0" y1="391" x2="345.5" y2="391" stroke="#262626" stroke-width="1.2"/>
<rect x="321.3" y="381.5" width="32.9" height="7.100000000000023" fill="#f0bcaf"/>
<line x1="321.3" y1="388.1" x2="354.2" y2="388.1" stroke="#4e1d17" stroke-width="1.3"/>
<line x1="264.9" y1="391" x2="357.5" y2="391" stroke="#262626" stroke-width="1.4"/>
<line x1="293.3" y1="391" x2="293.3" y2="393.8" stroke="#262626" stroke-width="1.1"/>
<line x1="337.75" y1="391" x2="337.75" y2="393.8" stroke="#262626" stroke-width="1.1"/>
<line x1="297.5" y1="291" x2="333.75" y2="291" stroke="#1a1a1a" stroke-width="1.2"/>
<text x="315.625" y="289" font-size="8.2" text-anchor="middle" fill="#333" style="stroke-width:0.05px">ns</text>
<text x="293.3" y="404.8" font-size="8.2" text-anchor="middle" fill="#2c2c2c" >t(8;21)</text>
<text x="337.75" y="404.8" font-size="8.2" text-anchor="middle" fill="#2c2c2c" >non-CBF</text>
<text x="337.75" y="415" font-size="8.2" text-anchor="middle" fill="#2c2c2c" >AML</text>
<text transform="translate(26.1,334.3) rotate(-90)" font-size="8.7" text-anchor="middle" fill="#2c2c2c" textLength="54.6" lengthAdjust="spacingAndGlyphs" style="stroke-width:0.12px">Expression level</text>
<text x="456.6" y="263.4" font-size="10.5" text-anchor="middle" fill="#2a2a2a" font-style="italic" textLength="32.2" lengthAdjust="spacingAndGlyphs" style="stroke-width:0.1px">ADAR2</text>
<line x1="397.4" y1="288.8" x2="397.4" y2="391.9" stroke="#262626" stroke-width="1.6"/>
<line x1="393.9" y1="391.1" x2="397.4" y2="391.1" stroke="#262626" stroke-width="1.2"/>
<text x="391.2" y="394.1" font-size="8.7" text-anchor="end" fill="#333" textLength="4.42" lengthAdjust="spacingAndGlyphs" style="stroke-width:0.06px;stroke:#333">0</text>
<line x1="393.9" y1="366.3" x2="397.4" y2="366.3" stroke="#262626" stroke-width="1.2"/>
<text x="391.2" y="369.3" font-size="8.7" text-anchor="end" fill="#333" textLength="4.42" lengthAdjust="spacingAndGlyphs" style="stroke-width:0.06px;stroke:#333">2</text>
<line x1="393.9" y1="341.5" x2="397.4" y2="341.5" stroke="#262626" stroke-width="1.2"/>
<text x="391.2" y="344.5" font-size="8.7" text-anchor="end" fill="#333" textLength="4.42" lengthAdjust="spacingAndGlyphs" style="stroke-width:0.06px;stroke:#333">4</text>
<line x1="393.9" y1="316.6" x2="397.4" y2="316.6" stroke="#262626" stroke-width="1.2"/>
<text x="391.2" y="319.6" font-size="8.7" text-anchor="end" fill="#333" textLength="4.42" lengthAdjust="spacingAndGlyphs" style="stroke-width:0.06px;stroke:#333">6</text>
<line x1="393.9" y1="291.8" x2="397.4" y2="291.8" stroke="#262626" stroke-width="1.2"/>
<text x="391.2" y="294.8" font-size="8.7" text-anchor="end" fill="#333" textLength="4.42" lengthAdjust="spacingAndGlyphs" style="stroke-width:0.06px;stroke:#333">8</text>
<rect x="403.35" y="366.7" width="28.3" height="18.5" fill="#f2c3b8"/>
<rect x="441.3" y="382.5" width="29" height="6.5" fill="#f2c3b8"/>
<rect x="479.95" y="343" width="28.5" height="34.69999999999999" fill="#f2c3b8"/>
<circle cx="414.8" cy="359.9" r="2.2" fill="#c3123a"/>
<circle cx="420" cy="358.5" r="2.2" fill="#c3123a"/>
<circle cx="425.2" cy="363.7" r="2.2" fill="#c3123a"/>
<circle cx="414.8" cy="365.4" r="2.2" fill="#c3123a"/>
<circle cx="409.9" cy="367.1" r="2.2" fill="#c3123a"/>
<circle cx="420" cy="371.5" r="2.2" fill="#c3123a"/>
<circle cx="425.2" cy="371.1" r="2.2" fill="#c3123a"/>
<circle cx="409.9" cy="374.9" r="2.2" fill="#c3123a"/>
<circle cx="414.8" cy="374.6" r="2.2" fill="#c3123a"/>
<circle cx="414.8" cy="380.9" r="2.2" fill="#c3123a"/>
<circle cx="409.9" cy="383.7" r="2.2" fill="#c3123a"/>
<circle cx="420" cy="384.4" r="2.2" fill="#c3123a"/>
<circle cx="414.8" cy="386" r="2.2" fill="#c3123a"/>
<circle cx="404.7" cy="386.5" r="2.2" fill="#c3123a"/>
<circle cx="425.2" cy="386.8" r="2.2" fill="#c3123a"/>
<circle cx="430.7" cy="385.1" r="2.2" fill="#c3123a"/>
<rect x="440.5" y="381.8" width="3.6" height="3.6" fill="#c3123a"/>
<rect x="450.09999999999997" y="381.5" width="3.6" height="3.6" fill="#c3123a"/>
<rect x="458.4" y="379.4" width="3.6" height="3.6" fill="#c3123a"/>
<rect x="453.8" y="383.8" width="3.6" height="3.6" fill="#c3123a"/>
<rect x="462.59999999999997" y="383.8" width="3.6" height="3.6" fill="#c3123a"/>
<rect x="440.5" y="385.5" width="3.6" height="3.6" fill="#c3123a"/>
<rect x="444.95" y="385.5" width="3.6" height="3.6" fill="#c3123a"/>
<rect x="449.4" y="385.5" width="3.6" height="3.6" fill="#c3123a"/>
<rect x="453.85" y="385.5" width="3.6" height="3.6" fill="#c3123a"/>
<rect x="458.3" y="385.5" width="3.6" height="3.6" fill="#c3123a"/>
<rect x="462.75" y="385.5" width="3.6" height="3.6" fill="#c3123a"/>
<rect x="467.2" y="385.5" width="3.6" height="3.6" fill="#c3123a"/>
<path d="M492.0,322.2 L496.4,322.2 L494.2,318.2 Z" fill="#c3123a"/>
<path d="M492.0,328.40000000000003 L496.4,328.40000000000003 L494.2,324.40000000000003 Z" fill="#c3123a"/>
<path d="M492.0,340.5 L496.4,340.5 L494.2,336.5 Z" fill="#c3123a"/>
<path d="M492.0,349.0 L496.4,349.0 L494.2,345.0 Z" fill="#c3123a"/>
<path d="M492.2,364.0 L496.59999999999997,364.0 L494.4,360.0 Z" fill="#c3123a"/>
<path d="M500.1,365.90000000000003 L504.5,365.90000000000003 L502.3,361.90000000000003 Z" fill="#c3123a"/>
<path d="M484.1,368.40000000000003 L488.5,368.40000000000003 L486.3,364.40000000000003 Z" fill="#c3123a"/>
<path d="M492.2,368.1 L496.59999999999997,368.1 L494.4,364.1 Z" fill="#c3123a"/>
<path d="M492.2,377.90000000000003 L496.59999999999997,377.90000000000003 L494.4,373.90000000000003 Z" fill="#c3123a"/>
<path d="M484.1,380.7 L488.5,380.7 L486.3,376.7 Z" fill="#c3123a"/>
<path d="M500.1,381.90000000000003 L504.5,381.90000000000003 L502.3,377.90000000000003 Z" fill="#c3123a"/>
<path d="M488.1,387.3 L492.5,387.3 L490.3,383.3 Z" fill="#c3123a"/>
<path d="M495.8,386.3 L500.2,386.3 L498,382.3 Z" fill="#c3123a"/>
<line x1="417.5" y1="358.5" x2="417.5" y2="366.7" stroke="#262626" stroke-width="1.2"/>
<line x1="417.5" y1="385.2" x2="417.5" y2="386.8" stroke="#262626" stroke-width="1.2"/>
<line x1="410.0" y1="358.5" x2="425.0" y2="358.5" stroke="#262626" stroke-width="1.2"/>
<line x1="410.0" y1="386.8" x2="425.0" y2="386.8" stroke="#262626" stroke-width="1.2"/>
<line x1="403.35" y1="374.5" x2="431.65" y2="374.5" stroke="#3a2220" stroke-width="1.2"/>
<line x1="455.8" y1="380.5" x2="455.8" y2="382.5" stroke="#262626" stroke-width="1.2"/>
<line x1="455.8" y1="389" x2="455.8" y2="389.8" stroke="#262626" stroke-width="1.2"/>
<line x1="450.8" y1="380.5" x2="460.8" y2="380.5" stroke="#262626" stroke-width="1.2"/>
<line x1="450.8" y1="389.8" x2="460.8" y2="389.8" stroke="#262626" stroke-width="1.2"/>
<line x1="441.3" y1="387.4" x2="470.3" y2="387.4" stroke="#3a2220" stroke-width="1.2"/>
<line x1="494.2" y1="319.8" x2="494.2" y2="343" stroke="#262626" stroke-width="1.2"/>
<line x1="494.2" y1="377.7" x2="494.2" y2="385.2" stroke="#262626" stroke-width="1.2"/>
<line x1="486.7" y1="319.8" x2="501.7" y2="319.8" stroke="#262626" stroke-width="1.2"/>
<line x1="486.7" y1="385.2" x2="501.7" y2="385.2" stroke="#262626" stroke-width="1.2"/>
<line x1="479.95" y1="366.15" x2="508.45" y2="366.15" stroke="#3a2220" stroke-width="1.2"/>
<line x1="396.6" y1="391" x2="511.25" y2="391" stroke="#262626" stroke-width="1.4"/>
<line x1="417.5" y1="391" x2="417.5" y2="393.8" stroke="#262626" stroke-width="1.1"/>
<line x1="456" y1="391" x2="456" y2="393.8" stroke="#262626" stroke-width="1.1"/>
<line x1="494.2" y1="391" x2="494.2" y2="393.8" stroke="#262626" stroke-width="1.1"/>
<line x1="417.5" y1="345" x2="456.25" y2="345" stroke="#333" stroke-width="1.1"/>
<polygon points="434.40,337.70 435.02,338.95 436.40,339.15 435.40,340.12 435.63,341.50 434.40,340.85 433.17,341.50 433.40,340.12 432.40,339.15 433.78,338.95" fill="#2c2c2c"/>
<polygon points="438.90,337.70 439.52,338.95 440.90,339.15 439.90,340.12 440.13,341.50 438.90,340.85 437.67,341.50 437.90,340.12 436.90,339.15 438.28,338.95" fill="#2c2c2c"/>
<line x1="453.75" y1="301.25" x2="494.25" y2="301.25" stroke="#333" stroke-width="1.1"/>
<polygon points="471.90,294.20 472.52,295.45 473.90,295.65 472.90,296.62 473.13,298.00 471.90,297.35 470.67,298.00 470.90,296.62 469.90,295.65 471.28,295.45" fill="#2c2c2c"/>
<polygon points="476.40,294.20 477.02,295.45 478.40,295.65 477.40,296.62 477.63,298.00 476.40,297.35 475.17,298.00 475.40,296.62 474.40,295.65 475.78,295.45" fill="#2c2c2c"/>
<text x="417.9" y="404.5" font-size="8.2" text-anchor="middle" fill="#2c2c2c" >Healthy</text>
<text x="455.9" y="404.5" font-size="8.2" text-anchor="middle" fill="#2c2c2c" >t(8;21)</text>
<text x="494.25" y="404.6" font-size="8.2" text-anchor="middle" fill="#2c2c2c" >Normal</text>
<text x="494.4" y="414.8" font-size="8.2" text-anchor="middle" fill="#2c2c2c" textLength="36.3" lengthAdjust="spacingAndGlyphs">karyotype</text>
<text transform="translate(380.2,339.1) rotate(-90)" font-size="8.7" text-anchor="middle" fill="#2c2c2c" textLength="66.5" lengthAdjust="spacingAndGlyphs" style="stroke-width:0.12px">Relative expression</text>
<rect x="0.5" y="0.5" width="519" height="423" fill="none" stroke="#555" stroke-width="1"/>
</svg>
</body></html>
